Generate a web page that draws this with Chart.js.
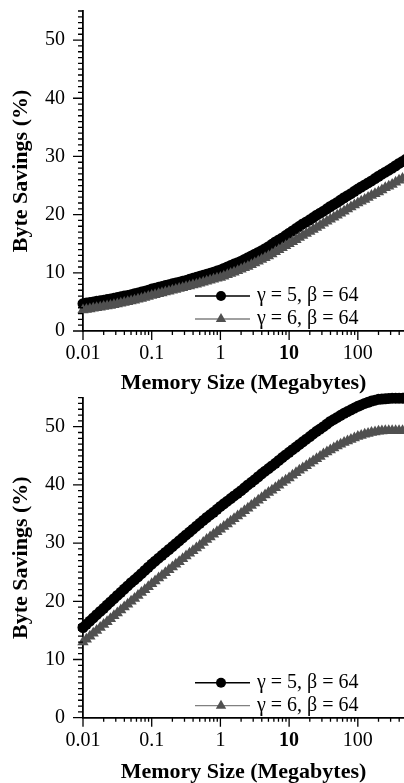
<!DOCTYPE html>
<html>
<head>
<meta charset="utf-8">
<script src="https://cdn.jsdelivr.net/npm/chart.js@4.4.0/dist/chart.umd.min.js"></script>
<style>
  body { margin: 0; background: #fff; }
  .box { position: absolute; left: 0; width: 404px; }
  #topBox { top: 0; height: 396px; }
  #bottomBox { top: 392px; height: 391px; }
  canvas { display: block; }
</style>
</head>
<body>
<div class="box" id="bottomBox"><canvas id="bottomChart"></canvas></div>
<div class="box" id="topBox"><canvas id="topChart"></canvas></div>
<script>
// memory sizes in megabytes (x values shared by all series)
const memSizes = [
  0.01, 0.0112, 0.0126, 0.0141, 0.0158, 0.0178, 0.02, 0.0224, 0.0251, 0.0282,
  0.0316, 0.0355, 0.0398, 0.0447, 0.0501, 0.0562, 0.0631, 0.0708, 0.0794, 0.0891,
  0.1, 0.112, 0.126, 0.141, 0.158, 0.178, 0.2, 0.224, 0.251, 0.282,
  0.316, 0.355, 0.398, 0.447, 0.501, 0.562, 0.631, 0.708, 0.794, 0.891,
  1, 1.12, 1.26, 1.41, 1.58, 1.78, 2, 2.24, 2.51, 2.82,
  3.16, 3.55, 3.98, 4.47, 5.01, 5.62, 6.31, 7.08, 7.94, 8.91,
  10, 11.2, 12.6, 14.1, 15.8, 17.8, 20, 22.4, 25.1, 28.2,
  31.6, 35.5, 39.8, 44.7, 50.1, 56.2, 63.1, 70.8, 79.4, 89.1,
  100, 112, 126, 141, 158, 178, 200, 224, 251, 282,
  316, 355, 398, 447, 501
];

// top panel
const topGamma5 = [
  4.7, 4.8, 4.9, 5.0, 5.1, 5.2, 5.3, 5.4, 5.5, 5.62,
  5.75, 5.88, 6.0, 6.12, 6.25, 6.4, 6.55, 6.7, 6.85, 7.02,
  7.2, 7.35, 7.5, 7.65, 7.8, 7.95, 8.1, 8.25, 8.4, 8.55,
  8.7, 8.88, 9.05, 9.22, 9.4, 9.58, 9.75, 9.92, 10.1, 10.3,
  10.5, 10.75, 11.0, 11.25, 11.5, 11.75, 12.0, 12.3, 12.6, 12.9,
  13.2, 13.5, 13.8, 14.15, 14.5, 14.9, 15.3, 15.65, 16.0, 16.4,
  16.8, 17.2, 17.6, 18.0, 18.4, 18.75, 19.1, 19.5, 19.9, 20.25,
  20.6, 21.0, 21.4, 21.75, 22.1, 22.5, 22.9, 23.25, 23.6, 24.0,
  24.4, 24.75, 25.1, 25.45, 25.8, 26.2, 26.6, 26.95, 27.3, 27.65,
  28.0, 28.4, 28.8, 29.15, 29.5
];
const topGamma6 = [
  3.6, 3.7, 3.8, 3.9, 4.0, 4.1, 4.2, 4.3, 4.4, 4.52,
  4.65, 4.78, 4.9, 5.02, 5.15, 5.3, 5.45, 5.6, 5.75, 5.92,
  6.1, 6.25, 6.4, 6.55, 6.7, 6.85, 7.0, 7.15, 7.3, 7.45,
  7.6, 7.75, 7.9, 8.05, 8.2, 8.38, 8.55, 8.72, 8.9, 9.05,
  9.2, 9.42, 9.65, 9.88, 10.1, 10.35, 10.6, 10.85, 11.1, 11.4,
  11.7, 12.0, 12.3, 12.6, 12.9, 13.25, 13.6, 13.95, 14.3, 14.65,
  15.0, 15.35, 15.7, 16.05, 16.4, 16.75, 17.1, 17.45, 17.8, 18.15,
  18.5, 18.85, 19.2, 19.55, 19.9, 20.25, 20.6, 20.95, 21.3, 21.65,
  22.0, 22.3, 22.6, 22.95, 23.3, 23.6, 23.9, 24.25, 24.6, 24.9,
  25.2, 25.55, 25.9, 26.2, 26.5
];

// bottom panel
const bottomGamma5 = [
  15.5, 16.05, 16.6, 17.15, 17.7, 18.25, 18.8, 19.35, 19.9, 20.45,
  21.0, 21.55, 22.1, 22.65, 23.2, 23.7, 24.2, 24.75, 25.3, 25.85,
  26.4, 26.9, 27.4, 27.9, 28.4, 28.9, 29.4, 29.9, 30.4, 30.9,
  31.4, 31.9, 32.4, 32.9, 33.4, 33.9, 34.4, 34.85, 35.3, 35.8,
  36.3, 36.75, 37.2, 37.65, 38.1, 38.55, 39.0, 39.5, 40.0, 40.45,
  40.9, 41.4, 41.9, 42.35, 42.8, 43.25, 43.7, 44.2, 44.7, 45.15,
  45.6, 46.05, 46.5, 46.95, 47.4, 47.85, 48.3, 48.75, 49.2, 49.6,
  50.0, 50.45, 50.9, 51.25, 51.6, 51.95, 52.3, 52.6, 52.9, 53.2,
  53.5, 53.75, 54.0, 54.2, 54.4, 54.55, 54.7, 54.75, 54.8, 54.85,
  54.9, 54.9, 54.9, 54.9, 54.9
];
const bottomGamma6 = [
  13.0, 13.5, 14.0, 14.5, 15.0, 15.5, 16.0, 16.5, 17.0, 17.5,
  18.0, 18.5, 19.0, 19.5, 20.0, 20.5, 21.0, 21.5, 22.0, 22.5,
  23.0, 23.5, 24.0, 24.45, 24.9, 25.4, 25.9, 26.35, 26.8, 27.3,
  27.8, 28.25, 28.7, 29.15, 29.6, 30.1, 30.6, 31.05, 31.5, 31.95,
  32.4, 32.85, 33.3, 33.75, 34.2, 34.65, 35.1, 35.55, 36.0, 36.45,
  36.9, 37.35, 37.8, 38.25, 38.7, 39.1, 39.5, 39.95, 40.4, 40.8,
  41.2, 41.65, 42.1, 42.5, 42.9, 43.3, 43.7, 44.1, 44.5, 44.9,
  45.3, 45.65, 46.0, 46.35, 46.7, 47.0, 47.3, 47.55, 47.8, 48.05,
  48.3, 48.5, 48.7, 48.85, 49.0, 49.1, 49.2, 49.25, 49.3, 49.3,
  49.3, 49.3, 49.3, 49.3, 49.3
];

const seriesNames = ['\u03b3 = 5, \u03b2 = 64', '\u03b3 = 6, \u03b2 = 64'];
const xTickVals = [0.01, 0.1, 1, 10, 100];
const yTickVals = [0, 10, 20, 30, 40, 50];
const xMin = 0.01, xMax = 470, yMin = 0, yMax = 55;

const serif = 'Liberation Serif, Times New Roman, serif';
Chart.defaults.color = '#000';
Chart.defaults.font.family = serif;

function points(ys) {
  return memSizes.map((m, i) => ({ x: m, y: ys[i] }));
}

function noScalePadding(scale) {
  scale.paddingTop = 0;
  scale.paddingBottom = 0;
  scale.paddingLeft = 0;
  scale.paddingRight = 0;
}

// tick marks (major + minor) and the in-plot legend
const axisDecor = {
  id: 'axisDecor',
  afterDraw(chart) {
    const { ctx, chartArea: a, scales: { x, y } } = chart;
    ctx.save();
    ctx.strokeStyle = '#000';
    ctx.lineWidth = 1.3;
    ctx.beginPath();
    for (let v = yMin; v <= yMax; v++) {
      const py = y.getPixelForValue(v);
      const len = v % 10 === 0 ? 10 : 5;
      ctx.moveTo(a.left - len, py);
      ctx.lineTo(a.left, py);
    }
    xTickVals.forEach(d => {
      for (let m = 1; m < 10; m++) {
        const v = d * m;
        if (v > xMax) break;
        const px = x.getPixelForValue(v);
        ctx.moveTo(px, a.bottom);
        ctx.lineTo(px, a.bottom + (m === 1 ? 9 : 4));
      }
    });
    ctx.stroke();

    // legend, bottom right inside the plot
    const rows = [a.bottom - 35, a.bottom - 12];
    chart.data.datasets.forEach((ds, i) => {
      const ly = rows[i];
      ctx.beginPath();
      ctx.strokeStyle = i === 0 ? '#000' : '#808080';
      ctx.lineWidth = i === 0 ? 1.6 : 1.3;
      ctx.moveTo(a.right - 209, ly);
      ctx.lineTo(a.right - 154, ly);
      ctx.stroke();
      const mx = a.right - 183;
      ctx.fillStyle = ds.pointBackgroundColor;
      ctx.beginPath();
      if (ds.pointStyle === 'circle') {
        ctx.arc(mx, ly, 5, 0, Math.PI * 2);
      } else {
        const r = 6;
        ctx.moveTo(mx, ly - r);
        ctx.lineTo(mx + r * 0.866, ly + r * 0.5);
        ctx.lineTo(mx - r * 0.866, ly + r * 0.5);
        ctx.closePath();
      }
      ctx.fill();
      ctx.fillStyle = '#000';
      ctx.font = '20px ' + serif;
      ctx.textBaseline = 'middle';
      ctx.textAlign = 'left';
      ctx.fillText(ds.label, a.right - 147, ly);
    });
    ctx.restore();
  }
};

function makeChart(id, s5, s6, areaTop, canvasH, areaBottom, titlePad) {
  return new Chart(document.getElementById(id), {
    type: 'line',
    data: {
      datasets: [
        {
          label: seriesNames[0],
          data: points(s5),
          borderColor: '#000',
          borderWidth: 1.5,
          pointStyle: 'circle',
          pointRadius: 5.5,
          pointBackgroundColor: '#000',
          pointBorderColor: '#000',
          pointBorderWidth: 0,
          order: 1,
          clip: false
        },
        {
          label: seriesNames[1],
          data: points(s6),
          borderColor: '#808080',
          borderWidth: 1.2,
          pointStyle: 'triangle',
          pointRadius: 6.5,
          pointBackgroundColor: '#505050',
          pointBorderColor: '#505050',
          pointBorderWidth: 0,
          order: 0,
          clip: false
        }
      ]
    },
    options: {
      responsive: true,
      maintainAspectRatio: false,
      animation: false,
      layout: { autoPadding: false, padding: { top: areaTop, left: 0, right: 0, bottom: 0 } },
      plugins: { legend: { display: false }, tooltip: { enabled: false } },
      scales: {
        x: {
          type: 'logarithmic',
          min: xMin,
          max: xMax,
          grid: { display: false, drawTicks: false },
          border: { display: true, color: '#000', width: 1.8 },
          afterBuildTicks: scale => { scale.ticks = xTickVals.map(v => ({ value: v })); },
          afterFit: scale => { scale.height = canvasH - areaBottom; noScalePadding(scale); },
          ticks: {
            autoSkip: false,
            maxRotation: 0,
            padding: 11,
            font: ctx => ({ family: serif, size: 20, weight: ctx.tick && ctx.tick.value === 10 ? 'bold' : 'normal' }),
            callback: v => String(v)
          },
          title: {
            display: true,
            text: 'Memory Size (Megabytes)',
            font: { family: serif, size: 22, weight: 'bold', lineHeight: 1 },
            padding: { top: 0, bottom: titlePad }
          }
        },
        y: {
          min: yMin,
          max: yMax,
          grid: { display: false, drawTicks: false },
          border: { display: true, color: '#000', width: 1.8 },
          afterBuildTicks: scale => { scale.ticks = yTickVals.map(v => ({ value: v })); },
          afterFit: scale => { scale.width = 83; noScalePadding(scale); },
          ticks: {
            padding: 18,
            font: { family: serif, size: 20 }
          },
          title: {
            display: true,
            text: 'Byte Savings (%)',
            font: { family: serif, size: 22, weight: 'bold', lineHeight: 1 },
            padding: { top: 10, bottom: 0 }
          }
        }
      }
    },
    plugins: [axisDecor]
  });
}

makeChart('topChart', topGamma5, topGamma6, 11, 396, 331, 2);
makeChart('bottomChart', bottomGamma5, bottomGamma6, 5.6, 391, 325.7, 0);
</script>
</body>
</html>
